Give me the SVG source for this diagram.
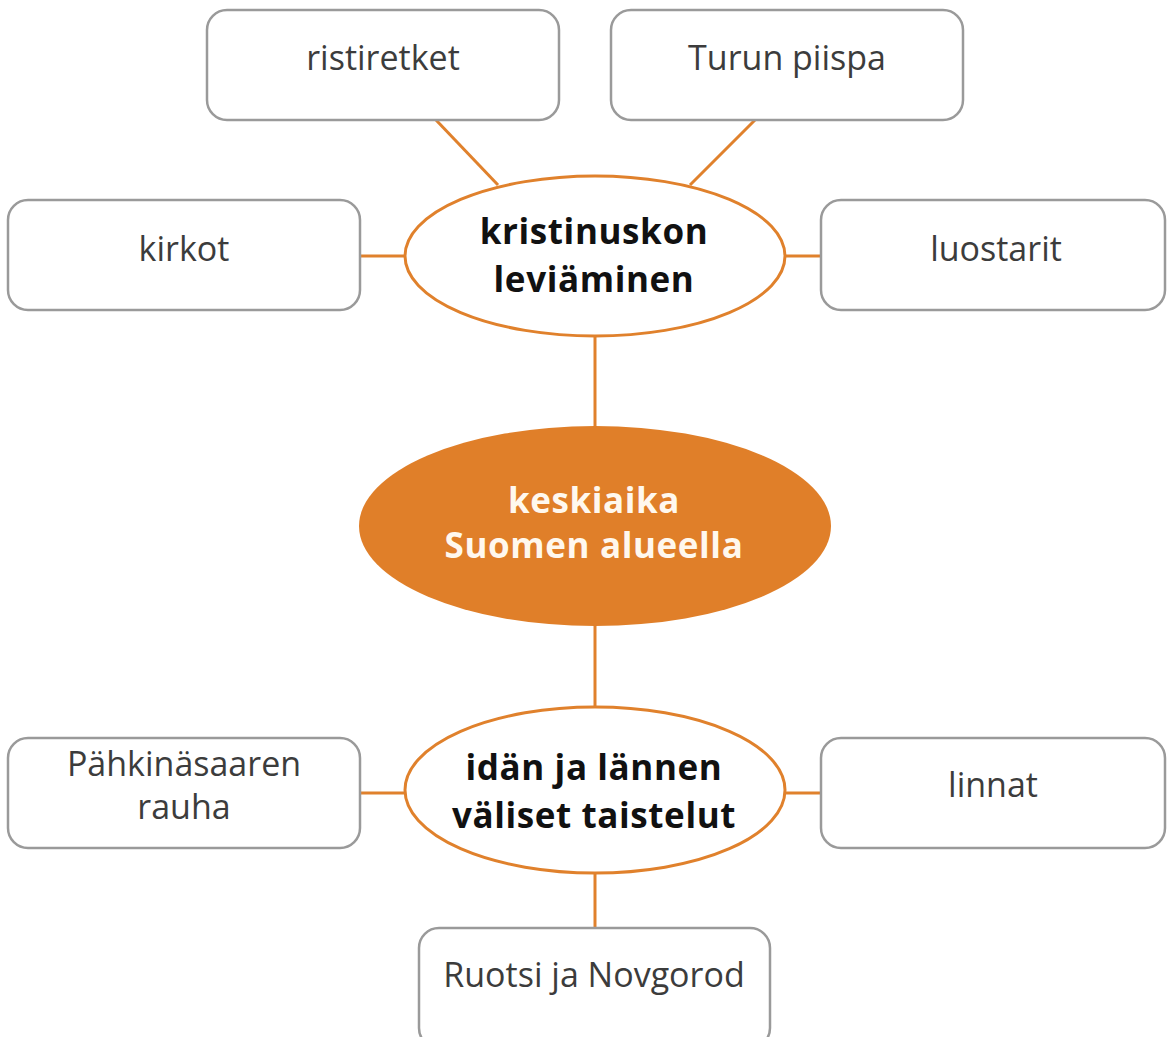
<svg xmlns="http://www.w3.org/2000/svg" width="1167" height="1037" viewBox="0 0 1167 1037">
<style>
.box{fill:#fff;stroke:#9a9a9a;stroke-width:2.5}
.ell{fill:#fff;stroke:#e0812c;stroke-width:3}
.t{font-family:"Open Sans","Noto Sans",sans-serif;font-size:34px;fill:#3c3c3c;text-anchor:middle}
.b{font-family:"Open Sans","Noto Sans",sans-serif;font-size:35px;font-weight:bold;fill:#111;text-anchor:middle;letter-spacing:0.6px}
.w{fill:#fff8ee}
.c{stroke:#e0812c;stroke-width:3;fill:none}
</style>
<rect width="1167" height="1037" fill="#fff"/>
<g id="connectors">
<line class="c" x1="436" y1="120" x2="498" y2="185"/>
<line class="c" x1="755" y1="120" x2="690" y2="185"/>
<line class="c" x1="360" y1="256" x2="405" y2="256"/>
<line class="c" x1="785" y1="256" x2="821" y2="256"/>
<line class="c" x1="595" y1="337" x2="595" y2="426"/>
<line class="c" x1="595" y1="626" x2="595" y2="707"/>
<line class="c" x1="360" y1="793" x2="405" y2="793"/>
<line class="c" x1="785" y1="793" x2="821" y2="793"/>
<line class="c" x1="595" y1="874" x2="595" y2="928"/>
</g>
<g id="ristiretket"><rect class="box" x="207" y="10" width="352" height="110" rx="20"/><text class="t" x="383" y="70">ristiretket</text></g>
<g id="turun"><rect class="box" x="611" y="10" width="352" height="110" rx="20"/><text class="t" x="787" y="70">Turun piispa</text></g>
<g id="kirkot"><rect class="box" x="8" y="200" width="352" height="110" rx="20"/><text class="t" x="184" y="261">kirkot</text></g>
<g id="luostarit"><rect class="box" x="821" y="200" width="344" height="110" rx="20"/><text class="t" x="996" y="261">luostarit</text></g>
<g id="kristinusko"><ellipse class="ell" cx="595" cy="256" rx="190" ry="80"/><text class="b" x="594" y="244">kristinuskon</text><text class="b" x="594" y="292">leviäminen</text></g>
<g id="keskiaika"><ellipse cx="595" cy="526" rx="236" ry="100" fill="#e07f29"/><text class="b w" x="594" y="513">keskiaika</text><text class="b w" x="594" y="558">Suomen alueella</text></g>
<g id="idan"><ellipse class="ell" cx="595" cy="790" rx="190" ry="83"/><text class="b" x="594" y="780">idän ja lännen</text><text class="b" x="594" y="828">väliset taistelut</text></g>
<g id="pahkinasaari"><rect class="box" x="8" y="738" width="352" height="110" rx="20"/><text class="t" x="184" y="776">Pähkinäsaaren</text><text class="t" x="184" y="819">rauha</text></g>
<g id="linnat"><rect class="box" x="821" y="738" width="344" height="110" rx="20"/><text class="t" x="993" y="797">linnat</text></g>
<g id="ruotsi"><rect class="box" x="419" y="928" width="351" height="120" rx="20"/><text class="t" x="594" y="987">Ruotsi ja Novgorod</text></g>
</svg>
